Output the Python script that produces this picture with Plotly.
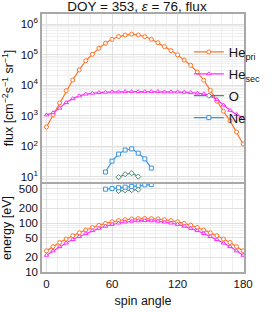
import plotly.graph_objects as go

# ---- data ----
spin = [0, 6, 12, 18, 24, 30, 36, 42, 48, 54, 60, 66, 72, 78, 84, 90, 96, 102, 108,
        114, 120, 126, 132, 138, 144, 150, 156, 162, 168, 174, 180]
he_pri_flux = [430, 1070, 2630, 6600, 14800, 31600, 63000, 102000, 162000, 234000,
               316000, 389000, 437000, 468000, 437000, 389000, 316000, 245000, 182000,
               135000, 98000, 66000, 44700, 26900, 14500, 6800, 3000, 1410, 680, 295, 120]
he_sec_flux = [1070, 1260, 1780, 2700, 3630, 4470, 5130, 5500, 5750, 5890, 6030, 6030,
               6170, 6170, 6170, 6170, 6170, 6170, 6030, 6030, 6030, 5890, 5750, 5500,
               5250, 4470, 3390, 2240, 1510, 1100, 830]
he_pri_energy = [27, 33, 40, 47, 55, 63, 72, 81, 90, 98, 106, 112, 117, 121, 123, 124,
                 123, 121, 117, 112, 106, 98, 90, 81, 72, 63, 55, 47, 40, 33, 27]
he_sec_energy = [22, 27, 33, 39, 46, 53, 61, 70, 78, 86, 94, 100, 105, 109, 111, 112,
                 111, 109, 105, 100, 94, 86, 78, 70, 61, 53, 46, 39, 33, 27, 22]

o_spin = [66, 72, 78, 84]
o_flux = [9.8, 12.3, 13.3, 10.3]
o_energy = [450, 465, 470, 480]

ne_spin = [54, 60, 66, 72, 78, 84, 90, 96]
ne_flux = [14.5, 33, 56, 76, 83, 60, 39, 19.5]
ne_energy = [490, 505, 525, 540, 560, 580, 600, 610]

flux_ticks = [10, 100, 1000, 10000, 100000, 1000000]
flux_ticktext = ["10<sup>1</sup>", "10<sup>2</sup>", "10<sup>3</sup>", "10<sup>4</sup>",
                 "10<sup>5</sup>", "10<sup>6</sup>"]
energy_ticks = [10, 20, 50, 100, 200, 500]
spin_ticks = [0, 60, 120, 180]

# ---- styling ----
C_PRI = "#ff7426"
C_SEC = "#ff2cff"
C_O = "#4e8a76"
C_NE = "#3b95e3"
FONT = "Liberation Sans, Arial, sans-serif"

series = [
    ("He<sub>pri</sub>", spin, he_pri_flux, he_pri_energy, C_PRI, "circle"),
    ("He<sub>sec</sub>", spin, he_sec_flux, he_sec_energy, C_SEC, "triangle-up"),
    ("O", o_spin, o_flux, o_energy, C_O, "diamond"),
    ("Ne", ne_spin, ne_flux, ne_energy, C_NE, "square"),
]

fig = go.Figure()
for i, (name, xs, fl, en, col, sym) in enumerate(series):
    mk = dict(symbol=sym, size=4, color="white", line=dict(color=col, width=1))
    fig.add_trace(go.Scatter(x=xs, y=fl, mode="lines+markers", name=name,
                             line=dict(color=col, width=1.2), marker=mk,
                             xaxis="x", yaxis="y", legendgroup=str(i)))
    fig.add_trace(go.Scatter(x=xs, y=en, mode="lines+markers", name=name,
                             line=dict(color=col, width=1.2), marker=mk,
                             xaxis="x2", yaxis="y2", showlegend=False,
                             legendgroup=str(i)))

GRID = "#e0e0e0"
MINOR = "#efefef"
FRAME = "#a8a8a8"
xcommon = dict(range=[-4.1, 180.8], tickvals=spin_ticks,
               showgrid=True, gridcolor=GRID, gridwidth=1,
               minor=dict(dtick=10, showgrid=True, gridcolor=MINOR),
               showline=True, linecolor=FRAME, linewidth=1.5, mirror=True,
               zeroline=False, ticks="", automargin=False)

fig.update_layout(
    width=274, height=312,
    margin=dict(l=42, r=8, t=14, b=40),
    paper_bgcolor="white", plot_bgcolor="white",
    font=dict(family=FONT, size=11, color="#111"),
    title=dict(text="DOY = 353, <i>ε</i> = 76, flux", x=0.5, xanchor="center",
               y=0.994, yanchor="top", font=dict(size=13.5, family=FONT)),
    showlegend=True,
    legend=dict(x=0.727, y=0.911, xanchor="left", yanchor="top",
                bgcolor="rgba(0,0,0,0)", font=dict(size=13, family=FONT),
                itemwidth=30, tracegroupgap=2),
    xaxis=dict(domain=[0, 1], anchor="y", showticklabels=False, matches="x2", **xcommon),
    xaxis2=dict(domain=[0, 1], anchor="y2", showticklabels=True,
                title=dict(text="spin angle", font=dict(size=12.5), standoff=8),
                tickfont=dict(size=11.5), **xcommon),
    yaxis=dict(domain=[0.349, 1], type="log", range=[0.837, 6.327],
               tickvals=flux_ticks, ticktext=flux_ticktext, tickfont=dict(size=11.5),
               showgrid=True, gridcolor=GRID,
               minor=dict(dtick="D1", showgrid=True, gridcolor=MINOR),
               showline=True, linecolor=FRAME, linewidth=1.5, mirror=True,
               title=dict(text="flux [cm<sup>−2</sup>s<sup>−1</sup> sr<sup>−1</sup>]",
                          font=dict(size=12.5), standoff=4),
               ticks="", automargin=False),
    yaxis2=dict(domain=[0, 0.341], type="log", range=[1, 2.796],
                tickvals=energy_ticks, ticktext=[str(v) for v in energy_ticks],
                tickfont=dict(size=11.5),
                showgrid=True, gridcolor=GRID,
                minor=dict(dtick="D1", showgrid=True, gridcolor=MINOR),
                showline=True, linecolor=FRAME, linewidth=1.5, mirror=True,
                title=dict(text="energy [eV]", font=dict(size=12.5), standoff=4),
                ticks="", automargin=False),
)

fig.write_html("out.html", config={"displayModeBar": False},
               post_script="document.body.style.margin='0px';")
